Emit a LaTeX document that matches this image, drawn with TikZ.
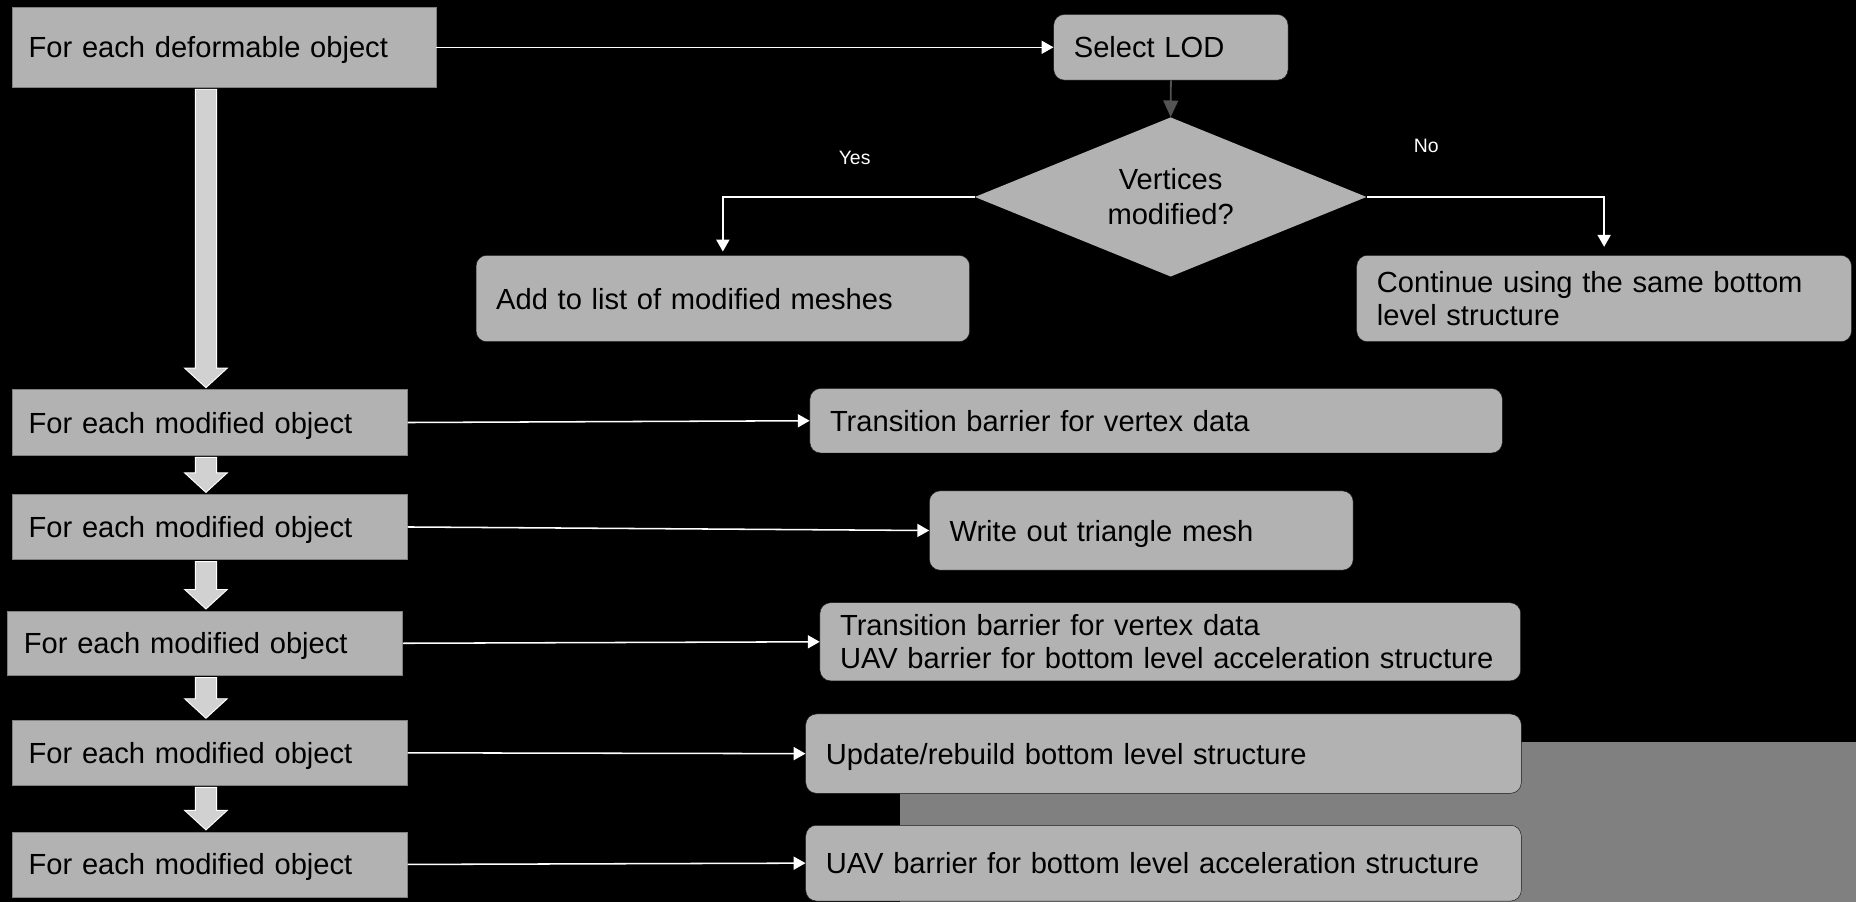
\documentclass[tikz,border=0pt]{standalone}
\usepackage{fontspec}
\setmainfont{Liberation Sans}
\usetikzlibrary{shapes.geometric,arrows.meta,calc}

\begin{document}
\begin{tikzpicture}[x=1pt, y=-1pt, font=\fontsize{24.6}{28}\selectfont,
    shell/.style={rectangle, draw=black!50, fill=black!30, inner xsep=14pt, inner ysep=0pt, anchor=north west, align=left},
    box/.style={shell, text depth=0pt},
    rbox/.style={box, draw=black!90, rounded corners=9pt, inner xsep=17pt},
    rtwo/.style={shell, draw=black!90, rounded corners=9pt, inner xsep=17pt},
    flow/.style={draw=white, line width=1.3pt, -{Triangle[length=10pt, width=11pt]}},
    fat/.style={fill=black!18, draw=white, line width=0.8pt},
    tag/.style={text=white, font=\fontsize{16.4}{18}\selectfont}]

    \useasboundingbox (0,0) rectangle (1568,762);
    \fill[black] (0,0) rectangle (1568,762);
    \fill[black!50] (760,627) rectangle (1568,762);

    \node[box, text width=330pt, minimum height=67.5pt] (def) at (10,6) {For each deformable object};
    \node[box, text width=306pt, minimum height=55.5pt] (m1) at (10,329) {For each modified object};
    \node[box, text width=306pt, minimum height=55pt] (m2) at (10,417.5) {For each modified object};
    \node[box, text width=306pt, minimum height=54.5pt] (m3) at (6,516) {For each modified object};
    \node[box, text width=306pt, minimum height=55pt] (m4) at (10,608.3) {For each modified object};
    \node[box, text width=306pt, minimum height=55pt] (m5) at (10,702.6) {For each modified object};

    \node[rbox, text width=164pt, minimum height=55.5pt] (lod) at (890,12) {Select LOD};
    \node[diamond, fill=black!30, aspect=2.46, inner sep=0pt, minimum width=331pt, minimum height=134.6pt,
        align=center, font=\fontsize{24.6}{29.6}\selectfont] (dec) at (989,166.4) {Vertices\\modified?};
    \node[rbox, text width=383pt, minimum height=73pt] (add) at (402,215.5) {Add to list of modified meshes};
    \node[rtwo, text width=384pt, minimum height=73pt] (keep) at (1146,215.5) {Continue using the same bottom\\level structure};
    \node[rbox, text width=551pt, minimum height=54.5pt] (trans) at (684,328) {Transition barrier for vertex data};
    \node[rbox, text width=324pt, minimum height=67pt] (write) at (785,414.5) {Write out triangle mesh};
    \node[rtwo, text width=558pt, minimum height=66pt] (both) at (692.5,509) {Transition barrier for vertex data\\UAV barrier for bottom level acceleration structure};
    \node[rbox, text width=570.5pt, minimum height=67pt] (upd) at (680.5,603) {Update/rebuild bottom level structure};
    \node[rbox, text width=570.5pt, minimum height=64pt] (uav) at (680.5,697) {UAV barrier for bottom level acceleration structure};

    \node[tag] (yes) at (722,133) {Yes};
    \node[tag] (no) at (1205,123) {No};

    \draw[flow] (def.east) -- (lod.west);
    \draw[draw=black!67, line width=1.5pt, -{Triangle[length=14pt, width=12.5pt]}] (lod.south) -- (dec.north);
    \draw[flow, shorten >=3pt] (dec.west) -| (add.north);
    \draw[flow, shorten >=7pt] (dec.east) -| (keep.north);
    \foreach \a/\b in {m1/trans, m2/write, m3/both, m4/upd, m5/uav}
        \draw[flow] (\a.east) -- (\b.west);

    % block arrows down the left column
    \coordinate (spine) at (174,0);
    \foreach \a/\b in {def/m1, m1/m2, m2/m3, m3/m4, m4/m5}
        \draw[fat] ($(\a.south -| spine)+(-9,1.5)$) -- ($(\b.north -| spine)+(-9,-18)$) -- ++(-9,0)
            -- ($(\b.north -| spine)+(0,-1.5)$) -- ++(18,-16.5) -- ++(-9,0) -- ($(\a.south -| spine)+(9,1.5)$) -- cycle;
\end{tikzpicture}
\end{document}
